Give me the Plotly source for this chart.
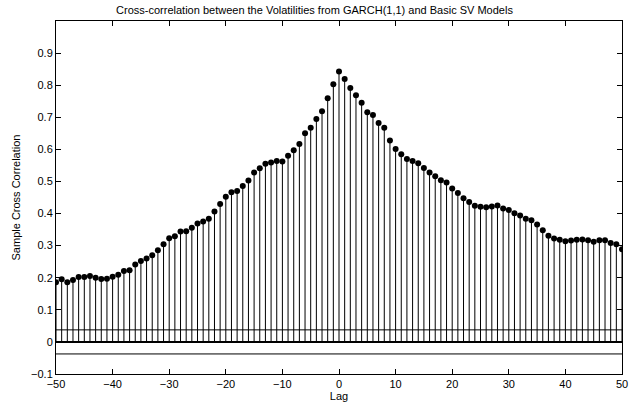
import plotly.graph_objects as go

lags = list(range(-50, 51))
xcorr = [
    0.186, 0.195, 0.186, 0.193, 0.202, 0.202, 0.205, 0.200, 0.196, 0.197,
    0.203, 0.209, 0.221, 0.223, 0.241, 0.252, 0.260, 0.270, 0.286, 0.304,
    0.323, 0.329, 0.344, 0.345, 0.356, 0.369, 0.375, 0.384, 0.406, 0.430,
    0.452, 0.466, 0.470, 0.486, 0.503, 0.528, 0.541, 0.555, 0.559, 0.564,
    0.562, 0.580, 0.597, 0.617, 0.650, 0.667, 0.695, 0.719, 0.759, 0.803,
    0.843,
    0.819, 0.791, 0.769, 0.745, 0.716, 0.707, 0.682, 0.667, 0.628, 0.601,
    0.585, 0.570, 0.564, 0.557, 0.542, 0.528, 0.516, 0.504, 0.497, 0.478,
    0.464, 0.448, 0.436, 0.424, 0.421, 0.420, 0.422, 0.425, 0.416, 0.411,
    0.401, 0.394, 0.384, 0.379, 0.366, 0.348, 0.331, 0.322, 0.318, 0.314,
    0.316, 0.318, 0.319, 0.317, 0.312, 0.317, 0.317, 0.308, 0.304, 0.289,
]
conf_bound = 0.0375
x_ticks = [-50, -40, -30, -20, -10, 0, 10, 20, 30, 40, 50]
y_ticks = [-0.1, 0, 0.1, 0.2, 0.3, 0.4, 0.5, 0.6, 0.7, 0.8, 0.9]

stem_x, stem_y = [], []
for lg, v in zip(lags, xcorr):
    stem_x += [lg, lg, None]
    stem_y += [0, v, None]

fig = go.Figure()
fig.add_trace(go.Scatter(x=stem_x, y=stem_y, mode="lines",
                         line=dict(color="black", width=1), hoverinfo="skip"))
fig.add_trace(go.Scatter(x=lags, y=xcorr, mode="markers",
                         marker=dict(color="black", size=6)))
fig.add_trace(go.Scatter(x=[-50, 50], y=[0, 0], mode="lines",
                         line=dict(color="black", width=2)))
fig.add_trace(go.Scatter(x=[-50, 50], y=[conf_bound, conf_bound], mode="lines",
                         line=dict(color="black", width=1)))
fig.add_trace(go.Scatter(x=[-50, 50], y=[-conf_bound, -conf_bound], mode="lines",
                         line=dict(color="black", width=1)))

font = "Liberation Sans, Arial, Helvetica, sans-serif"
fig.update_layout(
    width=629, height=406,
    margin=dict(l=56, r=7, t=21, b=32),
    paper_bgcolor="white", plot_bgcolor="white",
    showlegend=False,
    font=dict(family=font, size=11, color="black"),
    title=dict(text="Cross-correlation between the Volatilities from GARCH(1,1) and Basic SV Models",
               x=0.5, xanchor="center", y=0.975, yanchor="middle",
               font=dict(size=11)),
)
fig.update_xaxes(range=[-50, 50], tickvals=x_ticks, ticks="inside", ticklen=5,
                 automargin=False,
                 showgrid=False, zeroline=False, showline=True, linecolor="black",
                 linewidth=1, mirror="ticks", tickcolor="black",
                 title=dict(text="Lag", standoff=1, font=dict(size=11)))
fig.update_yaxes(range=[-0.1, 1.0], tickvals=y_ticks,
                 ticktext=["\u22120.1", "0", "0.1", "0.2", "0.3", "0.4", "0.5", "0.6", "0.7", "0.8", "0.9"],
                 ticks="inside", ticklen=5, automargin=False,
                 showgrid=False, zeroline=False, showline=True, linecolor="black",
                 linewidth=1, mirror="ticks", tickcolor="black",
                 title=dict(text="Sample Cross Correlation", standoff=8, font=dict(size=11)))

fig.write_html("out.html", config={"displayModeBar": False},
               post_script="document.body.style.margin='0';")
